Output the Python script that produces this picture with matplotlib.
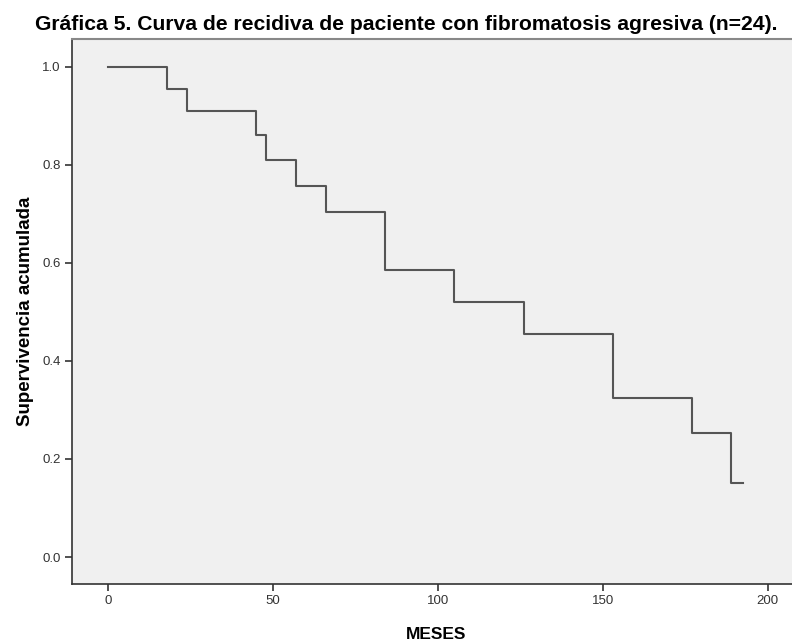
import matplotlib
matplotlib.use('Agg')
import matplotlib.pyplot as plt

# Kaplan-Meier step curve (months, cumulative survival)
meses = [0, 18, 24, 45, 48, 57, 66, 84, 105, 126, 153, 177, 189, 192.5]
supervivencia = [1.0, 0.955, 0.910, 0.862, 0.810, 0.757, 0.703, 0.585, 0.520, 0.455, 0.325, 0.253, 0.152, 0.152]

xticks = [0, 50, 100, 150, 200]
yticks = [0.0, 0.2, 0.4, 0.6, 0.8, 1.0]

plt.rcParams['font.family'] = ['Liberation Sans', 'DejaVu Sans']

fig = plt.figure(figsize=(7.92, 6.43), dpi=100)
ax = fig.add_axes([0.0909, 0.0918, 0.92, 0.8476])
ax.set_facecolor('#F0F0F0')

ax.step(meses, supervivencia, where='post', color='#555555', linewidth=1.5)

ax.set_xlim(-10.9, 210.0)
ax.set_ylim(-0.055, 1.057)
ax.set_xticks(xticks)
ax.set_xticklabels([str(t) for t in xticks])
ax.set_yticks(yticks)
ax.set_yticklabels([f'{t:.1f}' for t in yticks])
ax.tick_params(labelsize=9.5, length=5, width=1.2, color='#333333', labelcolor='#333333', pad=3)

ax.spines['right'].set_visible(False)
ax.spines['top'].set_edgecolor('#888888')
ax.spines['top'].set_linewidth(1.5)
for s in ['left', 'bottom']:
    ax.spines[s].set_edgecolor('#333333')
    ax.spines[s].set_linewidth(1.2)

ax.set_xlabel('MESES', fontsize=12.5, fontweight='bold', labelpad=14)
ax.set_ylabel('Supervivencia acumulada', fontsize=13.5, fontweight='bold', labelpad=6)
fig.text(0.044, 0.962, 'Gráfica 5. Curva de recidiva de paciente con fibromatosis agresiva (n=24).',
         fontsize=15.2, fontweight='bold', ha='left', va='center')

fig.savefig('out.png', dpi=100)
